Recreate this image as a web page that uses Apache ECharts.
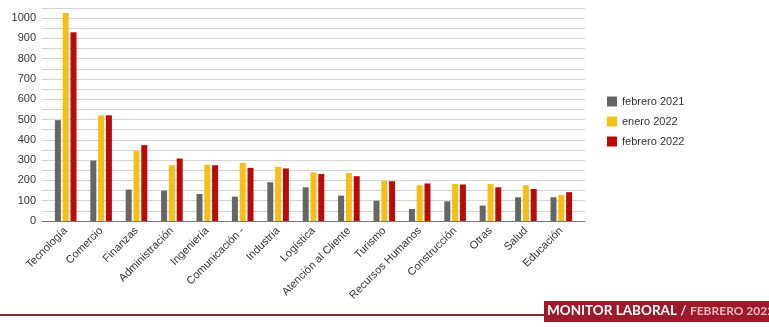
<!DOCTYPE html>
<html>
<head>
<meta charset="utf-8">
<script src="https://cdn.jsdelivr.net/npm/echarts@6/dist/echarts.min.js"></script>
<style>html,body{margin:0;padding:0;background:#fff;}#c{width:769px;height:327px;}</style>
</head>
<body>
<div id="c"></div>
<script>
const categories = ['Tecnología','Comercio','Finanzas','Administración','Ingeniería','Comunicación -','Industria','Logística','Atención al Cliente','Turismo','Recursos Humanos','Construcción','Otras','Salud','Educación'];
const seriesNames = ['febrero 2021','enero 2022','febrero 2022'];
const feb2021 = [497,298,155,150,133,120,191,166,125,100,59,97,76,117,117];
const ene2022 = [1025,521,346,275,278,287,267,240,237,198,176,183,183,176,128];
const feb2022 = [931,521,374,308,275,262,259,232,221,196,185,180,166,158,142];
const colors = ['#666666','#f6bf16','#bb0a0a'];

const chart = echarts.init(document.getElementById('c'));
const font = 'Liberation Sans, Arial, sans-serif';
chart.setOption({
  animation:false,
  color: colors,
  grid:[
    {left:42,right:184,top:8,bottom:106,containLabel:false},
    {left:48,right:190,top:8,bottom:106,containLabel:false}
  ],
  legend:{
    orient:'vertical', left:602, top:91, itemWidth:10, itemHeight:10, itemGap:9,
    icon:'rect',
    textStyle:{fontFamily:font,fontSize:11,color:'#333'},
    data: seriesNames
  },
  xAxis:[
    {gridIndex:0,type:'value',min:0,max:1,show:true,
      axisLine:{show:true,lineStyle:{color:'#777',width:1}},
      axisTick:{show:false},axisLabel:{show:false},splitLine:{show:false}},
    {gridIndex:1,type:'category', data:categories,
      axisLine:{show:false},
      axisTick:{show:false},
      axisLabel:{rotate:45,interval:0,fontFamily:font,fontSize:11,color:'#333',margin:8}}
  ],
  yAxis:[
    {gridIndex:0,type:'value', min:0, max:1050, interval:50,
      axisLine:{show:false}, axisTick:{show:false}, axisLabel:{show:false},
      splitLine:{lineStyle:{color:'#d4d4d4',width:1}}},
    {gridIndex:1,type:'value', min:0, max:1050, interval:50,
      axisLine:{show:false}, axisTick:{show:false}, splitLine:{show:false},
      axisLabel:{fontFamily:font,fontSize:11,color:'#333',margin:12,
        formatter:v=> (v%100===0 ? String(v) : '')}}
  ],
  series:[
    {name:seriesNames[0],type:'bar',xAxisIndex:1,yAxisIndex:1,data:feb2021,barWidth:6,barGap:'30%'},
    {name:seriesNames[1],type:'bar',xAxisIndex:1,yAxisIndex:1,data:ene2022,barWidth:6,barGap:'30%'},
    {name:seriesNames[2],type:'bar',xAxisIndex:1,yAxisIndex:1,data:feb2022,barWidth:6,barGap:'30%'}
  ],
  graphic:[
    {type:'rect',shape:{x:0,y:314,width:546,height:2},style:{fill:'#8c2a33'}},
    {type:'rect',shape:{x:544,y:301,width:225,height:21},style:{fill:'#9b1b2a'}},
    {type:'text',x:547,y:304,style:{
      text:'{a|MONITOR LABORAL} {b|/} {c|FEBRERO 2022}',
      rich:{
        a:{fontFamily:'Lato, Open Sans, sans-serif',fontWeight:'bold',fontSize:13.5,fill:'#ffffff'},
        b:{fontFamily:'Lato, Open Sans, sans-serif',fontWeight:'bold',fontSize:13.5,fill:'#f0d0d0'},
        c:{fontFamily:'Lato, Open Sans, sans-serif',fontWeight:'bold',fontSize:12,fill:'#e8b8bc'}
      }
    }}
  ]
});
</script>
</body>
</html>
